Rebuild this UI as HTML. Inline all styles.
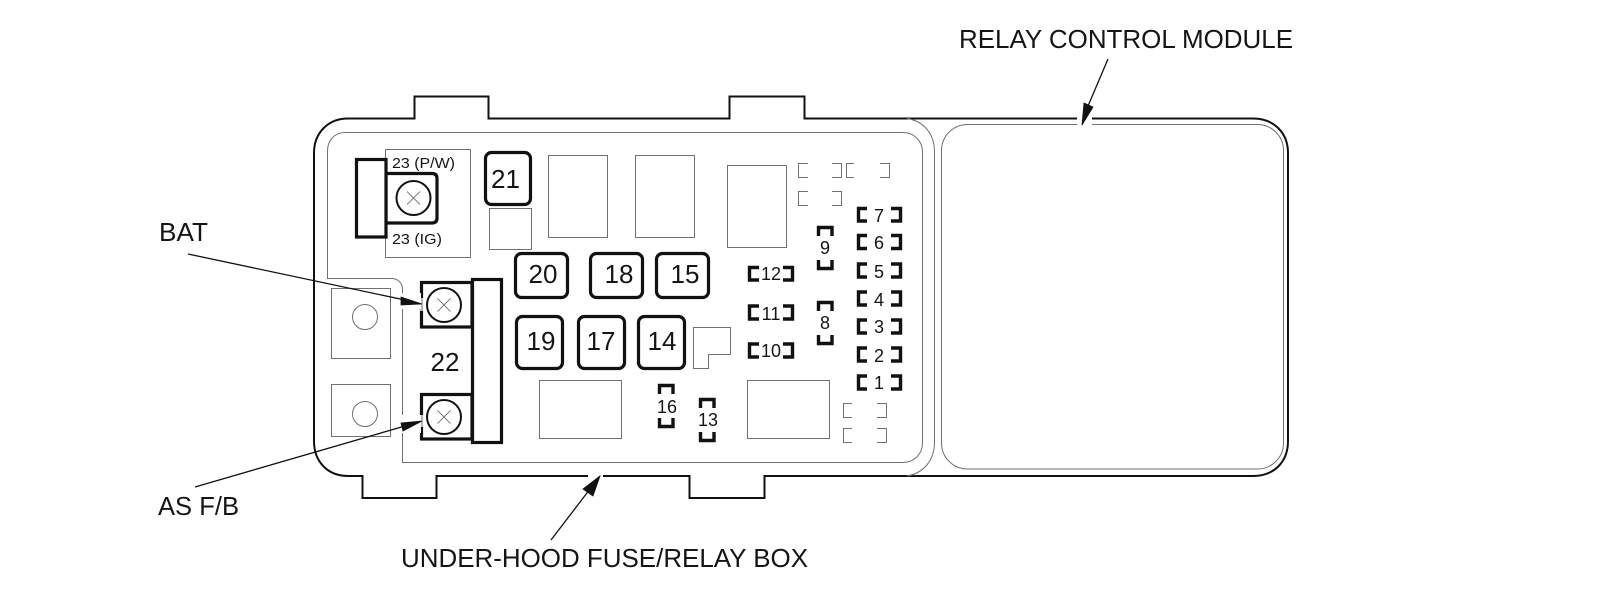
<!DOCTYPE html>
<html>
<head>
<meta charset="utf-8">
<style>
html,body{margin:0;padding:0;background:#fff;width:1600px;height:593px;overflow:hidden}
svg{display:block}
text{font-family:"Liberation Sans",Arial,sans-serif;fill:#151515}
.g{fill:none;stroke:#707070;stroke-width:1}
.k{fill:none;stroke:#111;stroke-width:2}
.b{fill:#fff;stroke:#111;stroke-width:3.2}
.br{fill:none;stroke:#111;stroke-width:3.4}
.x{stroke:#555;stroke-width:.8;fill:none}
.l{font-size:26px}
.n{font-size:26px;text-anchor:middle}
.s{font-size:18px;text-anchor:middle}
</style>
</head>
<body>
<svg width="1600" height="593" viewBox="0 0 1600 593" xmlns="http://www.w3.org/2000/svg">
<rect width="1600" height="593" fill="#fff"/>

<!-- outer housing -->
<path class="k" d="M348 118.500H414.500V96.500H488.500V118.500H729.500V96.500H804.500V118.500H1253C1274 118.500 1288 133 1288 153V441C1288 462 1274 476 1253 476H764.500V498H689.500V476H436.500V498H362.500V476H348C328 476 314 462 314 441V153C314 133 328 118.500 348 118.500Z"/>

<!-- inner panel with notch -->
<path class="g" d="M345 132.500H903C914 132.500 922.500 141 922.500 152V443C922.500 454 914 462.500 903 462.500H402.500V289C402.500 282 397 278.500 391 278.500H327.500V151C327.500 140 335 132.500 345 132.500Z"/>
<!-- divider arc -->
<path class="g" d="M907 118.500C924 121 934.500 134 934.500 152V442C934.500 460 924 473 907 476"/>
<!-- relay module -->
<rect class="g" x="941.500" y="124.500" width="342" height="344.500" rx="26" ry="26"/>

<!-- gray boxes -->
<rect class="g" x="385.500" y="149.500" width="85" height="108"/>
<rect class="g" x="489.500" y="208.500" width="42" height="41"/>
<rect class="g" x="548.500" y="155.500" width="59" height="82"/>
<rect class="g" x="635.500" y="155.500" width="59" height="82"/>
<rect class="g" x="727.500" y="165.500" width="59" height="82"/>
<rect class="g" x="539.500" y="380.500" width="82" height="58"/>
<rect class="g" x="747.500" y="380.500" width="82" height="58"/>
<path class="g" d="M693.500 327.500H730.500V354.500H708.500V368.500H693.500Z"/>
<rect class="g" x="331.500" y="288.500" width="59" height="70"/>
<rect class="g" x="331.500" y="384.500" width="59" height="52"/>
<circle class="g" cx="365" cy="317" r="12.500"/>
<circle class="g" cx="365" cy="414" r="12.500"/>

<!-- gray brackets -->
<path class="g" d="M808 163.500H798.500V177.500H808M832 163.500H841.500V177.500H832M854 163.500H846.500V177.500H854M880 163.500H889.500V177.500H880"/>
<path class="g" d="M808 191.500H798.500V205.500H808M832 191.500H841.500V205.500H832"/>
<path class="g" d="M852 403.500H843.500V417.500H852M877 403.500H886.500V417.500H877"/>
<path class="g" d="M852 428.500H843.500V442.500H852M877 428.500H886.500V442.500H877"/>

<!-- fuse 23 -->
<path class="b" d="M386 173.500H432Q437 173.500 437 178.500V218Q437 223 432 223H386Z"/>
<rect class="b" x="356.500" y="159.500" width="29.500" height="77.500"/>
<circle cx="413.500" cy="198" r="17" fill="#fff" stroke="#111" stroke-width="2"/>
<path class="x" d="M407 191.500L420 204.500M420 191.500L407 204.500"/>
<text x="392" y="168" font-size="15" textLength="63" lengthAdjust="spacingAndGlyphs">23 (P/W)</text>
<text x="392" y="244" font-size="15" textLength="50" lengthAdjust="spacingAndGlyphs">23 (IG)</text>

<!-- numbered fuses -->
<rect class="b" x="485.500" y="152.500" width="45" height="52" rx="6"/>
<rect class="b" x="515.500" y="253.500" width="52" height="44" rx="6"/>
<rect class="b" x="590.500" y="253.500" width="52" height="44" rx="6"/>
<rect class="b" x="656.500" y="253.500" width="52" height="44" rx="6"/>
<rect class="b" x="516.500" y="316.500" width="46" height="52" rx="6"/>
<rect class="b" x="578.500" y="316.500" width="46" height="52" rx="6"/>
<rect class="b" x="638.500" y="316.500" width="46" height="52" rx="6"/>
<text class="n" x="505.500" y="188">21</text>
<text class="n" x="543" y="283">20</text>
<text class="n" x="619" y="283">18</text>
<text class="n" x="685" y="283">15</text>
<text class="n" x="541" y="350">19</text>
<text class="n" x="601" y="350">17</text>
<text class="n" x="662" y="350">14</text>

<!-- fuse 22 -->
<rect class="b" x="421.500" y="282.500" width="50.500" height="44.500"/>
<rect class="b" x="421.500" y="394.500" width="50.500" height="44.500"/>
<rect class="b" x="472.500" y="279.500" width="29" height="163"/>
<circle cx="444" cy="305" r="17" fill="#fff" stroke="#111" stroke-width="2"/>
<circle cx="444" cy="417" r="17" fill="#fff" stroke="#111" stroke-width="2"/>
<path class="x" d="M437.500 298.500L450.500 311.500M450.500 298.500L437.500 311.500M437.500 410.500L450.500 423.500M450.500 410.500L437.500 423.500"/>
<text class="n" x="445" y="371">22</text>

<!-- small fuse brackets, column 1-7 -->
<path class="br" d="M867 208.500H858.500V221H867M891 208.500H900.500V221H891"/>
<path class="br" d="M867 235.500H858.500V248.500H867M891 235.500H900.500V248.500H891"/>
<path class="br" d="M867 264H858.500V277H867M891 264H900.500V277H891"/>
<path class="br" d="M867 292H858.500V305H867M891 292H900.500V305H891"/>
<path class="br" d="M867 320H858.500V333H867M891 320H900.500V333H891"/>
<path class="br" d="M867 348H858.500V361H867M891 348H900.500V361H891"/>
<path class="br" d="M867 376H858.500V389H867M891 376H900.500V389H891"/>
<text class="s" x="879" y="222">7</text>
<text class="s" x="879" y="249">6</text>
<text class="s" x="879" y="278">5</text>
<text class="s" x="879" y="306">4</text>
<text class="s" x="879" y="333">3</text>
<text class="s" x="879" y="362">2</text>
<text class="s" x="879" y="389">1</text>

<!-- 10-12 -->
<path class="br" d="M759 267.500H749.500V280H759M783 267.500H792.500V280H783"/>
<path class="br" d="M759 306H749.500V319H759M783 306H792.500V319H783"/>
<path class="br" d="M759 344H749.500V357H759M783 344H792.500V357H783"/>
<text class="s" x="771" y="280">12</text>
<text class="s" x="771" y="320">11</text>
<text class="s" x="771" y="357">10</text>

<!-- vertical 8, 9, 13, 16 -->
<path class="br" d="M818.500 236V227.500H832V236M818.500 260V268.500H832V260"/>
<path class="br" d="M818.500 311V302.500H832V311M818.500 335V343.500H832V335"/>
<path class="br" d="M659.500 394V385.500H673V394M659.500 418V426.500H673V418"/>
<path class="br" d="M700.500 408V399.500H714V408M700.500 432V440.500H714V432"/>
<text class="s" x="825" y="254">9</text>
<text class="s" x="825" y="329">8</text>
<text class="s" x="667" y="413">16</text>
<text class="s" x="708" y="426">13</text>

<!-- halos behind arrow tips -->
<rect x="1077" y="116" width="15" height="11" fill="#fff"/>
<rect x="588" y="473" width="15" height="6" fill="#fff"/>
<rect x="398" y="293" width="23" height="16" fill="#fff"/>
<rect x="398" y="415" width="23" height="18" fill="#fff"/>
<rect x="420" y="298" width="3.500" height="13" fill="#fff" opacity=".7"/>
<rect x="420" y="415" width="3.500" height="12" fill="#fff" opacity=".7"/>

<!-- leader lines & arrowheads -->
<path d="M188 254L405 300" stroke="#111" stroke-width="1.300" fill="none"/>
<path d="M422 304L401 297L401 305Z" fill="#111" stroke="#111" stroke-width=".8"/>
<path d="M195 487L405 426" stroke="#111" stroke-width="1.300" fill="none"/>
<path d="M422 421L401 423L403 431Z" fill="#111" stroke="#111" stroke-width=".8"/>
<path d="M551 540L590 489" stroke="#111" stroke-width="1.300" fill="none"/>
<path d="M600 476L583 489L593 496Z" fill="#111" stroke="#111" stroke-width=".8"/>
<path d="M1108 59L1088 106" stroke="#111" stroke-width="1.300" fill="none"/>
<path d="M1082 125L1084 103L1093 107Z" fill="#111" stroke="#111" stroke-width=".8"/>

<!-- labels -->
<text class="l" x="959" y="48" textLength="334" lengthAdjust="spacingAndGlyphs">RELAY CONTROL MODULE</text>
<text class="l" x="159" y="241" textLength="49" lengthAdjust="spacingAndGlyphs">BAT</text>
<text class="l" x="158" y="515" textLength="81" lengthAdjust="spacingAndGlyphs">AS F/B</text>
<text class="l" x="401" y="567" textLength="407" lengthAdjust="spacingAndGlyphs">UNDER-HOOD FUSE/RELAY BOX</text>
</svg>
</body>
</html>
